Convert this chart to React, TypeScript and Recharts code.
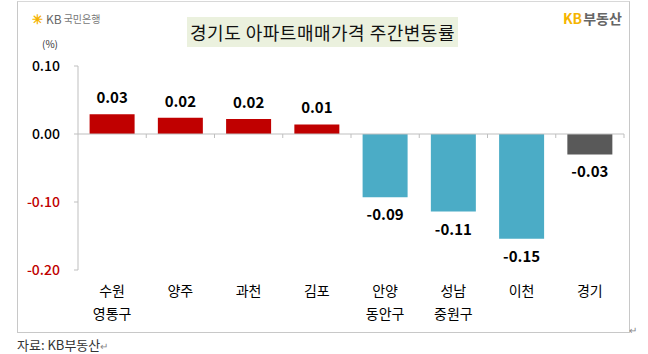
import { BarChart, Bar, XAxis, YAxis, Cell, LabelList, ReferenceLine } from 'recharts';

const regions = ['수원\n영통구', '양주', '과천', '김포', '안양\n동안구', '성남\n중원구', '이천', '경기'];
const changes = [0.029, 0.024, 0.022, 0.014, -0.093, -0.114, -0.154, -0.03];
const yTicks = [0.1, 0, -0.1, -0.2];

const RED = '#C00000';
const BLUE = '#4BACC6';
const GREY = '#595959';
const FONT = '"Noto Sans CJK KR", "Noto Sans", sans-serif';

const data = regions.map((name, i) => ({ name, value: changes[i] }));

const barColor = (name: string, v: number) => (name === '경기' ? GREY : v >= 0 ? RED : BLUE);

function CategoryTick(props: any) {
    const { x, y, payload } = props;
    const lines = String(payload.value).split('\n');
    return (
        <g>
            {lines.map((l, i) => (
                <text key={i} x={x} y={y + 18 + i * 23} textAnchor="middle" fontSize={14} fill="#000" fontFamily={FONT}>
                    {l}
                </text>
            ))}
        </g>
    );
}

function ValueTick(props: any) {
    const { x, y, payload } = props;
    const v = payload.value as number;
    return (
        <text x={x} y={y + 5} textAnchor="end" fontSize={14} fontWeight={500} fill={v < 0 ? RED : '#000'} fontFamily={FONT}>
            {v.toFixed(2)}
        </text>
    );
}

function ValueLabel(props: any) {
    const { x, y, width, height, value } = props;
    const top = Math.min(y, y + height);
    const bottom = Math.max(y, y + height);
    const cx = x + width / 2;
    const ty = value >= 0 ? top - 11 : bottom + 23;
    return (
        <text x={cx} y={ty} textAnchor="middle" fontSize={15} fontWeight={600} fill="#000" fontFamily={FONT}>
            {value.toFixed(2)}
        </text>
    );
}

// small tick marks along the zero line at category boundaries
function ZeroTicks(props: any) {
    const vb = props.viewBox;
    if (!vb) return null;
    const step = vb.width / regions.length;
    return (
        <g>
            {regions.map((_, i) => (
                <line key={i} x1={vb.x + step * (i + 1)} x2={vb.x + step * (i + 1)} y1={vb.y} y2={vb.y + 4} stroke="#BFBFBF" />
            ))}
        </g>
    );
}

export default function App() {
    return (
        <div style={{ position: 'fixed', left: 0, top: 0, width: 648, height: 354, background: '#fff', fontFamily: FONT }}>
            <div style={{ position: 'absolute', left: 17, top: 1, width: 611, height: 330, border: '1px solid #C8C8C8', borderTop: '1px solid #D8D8D8' }} />
            <div style={{ position: 'absolute', left: 629, top: 322, fontSize: 10, color: '#888' }}>↵</div>

            <div style={{ position: 'absolute', left: 32, top: 9, fontSize: 11, color: '#777', display: 'flex', alignItems: 'center' }}>
                <span style={{ color: '#F5B400', fontWeight: 700, fontSize: 13, marginRight: 3 }}>✳</span>
                <span style={{ fontSize: 12, color: '#666' }}>KB</span>
                <span style={{ fontSize: 10, color: '#777', marginLeft: 2 }}>국민은행</span>
            </div>
            <div style={{ position: 'absolute', left: 42, top: 36, fontSize: 10, color: '#333' }}>(%)</div>

            <div
                style={{
                    position: 'absolute',
                    left: 187,
                    top: 17,
                    width: 271,
                    height: 30,
                    background: '#EBF1DE',
                    fontSize: 18,
                    color: '#111',
                    textAlign: 'center',
                    lineHeight: '30px',
                    letterSpacing: 0.5,
                }}
            >
                경기도 아파트매매가격 주간변동률
            </div>

            <div style={{ position: 'absolute', left: 563, top: 8, fontSize: 14, fontWeight: 700, display: 'flex' }}>
                <span style={{ color: '#F5B400' }}>KB</span>
                <span style={{ color: '#666', marginLeft: 1 }}>부동산</span>
            </div>

            <div style={{ position: 'absolute', left: 0, top: 0 }}>
                <BarChart width={648} height={354} data={data} margin={{ top: 66, right: 24, bottom: 24, left: 0 }} barCategoryGap="17%">
                    <XAxis dataKey="name" axisLine={false} tickLine={false} height={60} tick={<CategoryTick />} interval={0} />
                    <YAxis
                        domain={[-0.2, 0.1]}
                        ticks={yTicks}
                        width={78}
                        axisLine={{ stroke: '#BFBFBF' }}
                        tickLine={{ stroke: '#BFBFBF' }}
                        tickSize={4}
                        tickMargin={14}
                        tick={<ValueTick />}
                    />
                    <ReferenceLine y={0} stroke="#BFBFBF" label={<ZeroTicks />} />
                    <Bar dataKey="value" isAnimationActive={false}>
                        {data.map((d, i) => (
                            <Cell key={i} fill={barColor(d.name, d.value)} />
                        ))}
                        <LabelList dataKey="value" content={<ValueLabel />} />
                    </Bar>
                </BarChart>
            </div>

            <div style={{ position: 'absolute', left: 17, top: 335, fontSize: 13, color: '#333' }}>
                자료: KB부동산<span style={{ fontSize: 10, color: '#888' }}>↵</span>
            </div>
        </div>
    );
}
